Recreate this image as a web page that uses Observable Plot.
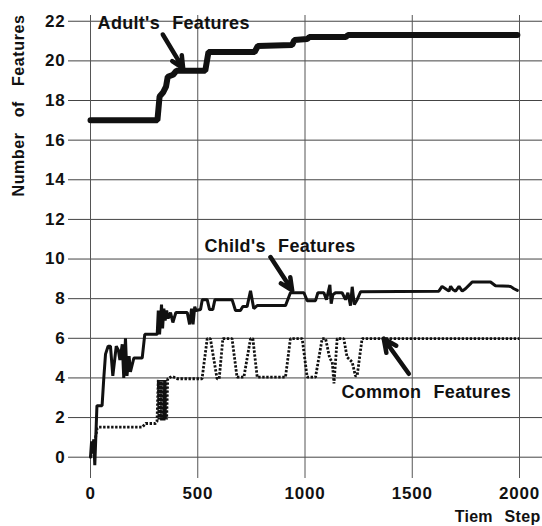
<!DOCTYPE html>
<html><head><meta charset="utf-8">
<script src="https://cdn.jsdelivr.net/npm/d3@7"></script>
<script src="https://cdn.jsdelivr.net/npm/@observablehq/plot@0.6"></script>
<style>
body{margin:0;background:#fff;}
#chart svg{font-family:"Liberation Sans",Arial,sans-serif;font-weight:bold;}
</style></head><body><div id="chart"></div>
<script>
// Tick values
const xTicks = [0, 500, 1000, 1500, 2000];
const yTicks = [0, 2, 4, 6, 8, 10, 12, 14, 16, 18, 20, 22];

// Adult's features (time step, count)
const adultT = [0, 312, 322, 338, 352, 360, 385, 400, 535, 550, 765, 780, 940, 950, 1010, 1020, 1190, 1200, 1990];
const adultV = [17, 17, 18.2, 18.4, 18.7, 19.2, 19.3, 19.5, 19.5, 20.45, 20.45, 20.75, 20.8, 21.05, 21.1, 21.2, 21.2, 21.3, 21.3];

// Child's features
const childT = [0, 5, 10, 15, 20, 30, 54, 62, 70, 82, 93, 104, 120, 130, 137, 148, 155, 163, 170, 180, 186, 202, 241, 253, 311, 316, 322, 331, 336, 342, 348, 355, 362, 373, 384, 398, 451, 462, 471, 478, 486, 492, 513, 521, 544, 555, 570, 580, 660, 676, 699, 710, 730, 746, 761, 777, 909, 932, 995, 1010, 1049, 1060, 1088, 1100, 1116, 1122, 1130, 1142, 1173, 1189, 1200, 1212, 1220, 1230, 1243, 1259, 1624, 1639, 1655, 1671, 1679, 1690, 1702, 1718, 1733, 1748, 1772, 1779, 1865, 1888, 1958, 1974, 1990];
const childV = [0, 0.8, 0.2, 0.9, -0.4, 2.6, 2.6, 4.0, 5.2, 5.6, 5.6, 4.1, 5.6, 5.4, 4.9, 5.7, 4.0, 6.0, 4.1, 5.1, 4.3, 5.0, 5.0, 6.2, 6.2, 7.4, 6.2, 7.7, 6.5, 7.5, 6.9, 7.4, 7.0, 7.3, 6.8, 7.3, 7.3, 6.7, 7.5, 6.7, 7.6, 7.4, 7.45, 7.95, 7.95, 7.45, 7.45, 7.95, 7.95, 7.4, 7.4, 7.6, 7.6, 8.4, 7.5, 7.65, 7.65, 8.3, 8.3, 7.9, 7.9, 8.3, 8.3, 7.95, 8.7, 7.75, 8.2, 8.3, 8.3, 7.95, 8.3, 7.65, 8.6, 7.7, 7.95, 8.35, 8.38, 8.62, 8.5, 8.38, 8.62, 8.45, 8.38, 8.62, 8.38, 8.5, 8.76, 8.84, 8.84, 8.65, 8.62, 8.5, 8.42];

// Common features
const commonT = [0, 8, 20, 31, 40, 241, 257, 303, 310, 316, 319, 322, 325, 328, 331, 334, 337, 340, 343, 346, 349, 352, 355, 360, 380, 404, 520, 544, 559, 590, 600, 617, 660, 683, 715, 746, 757, 777, 909, 932, 987, 1010, 1049, 1080, 1096, 1115, 1127, 1135, 1150, 1181, 1196, 1220, 1235, 1243, 1266, 2000];
const commonV = [0, 0.2, 0.8, 1.45, 1.52, 1.52, 1.7, 1.7, 1.8, 3.9, 1.9, 3.9, 1.9, 3.9, 1.85, 3.9, 1.9, 3.9, 1.85, 3.9, 1.9, 3.9, 1.9, 3.96, 4.08, 3.96, 3.96, 5.98, 5.98, 3.96, 3.96, 5.98, 5.98, 4.04, 4.04, 5.98, 5.98, 4.04, 4.04, 5.98, 5.98, 4.04, 4.04, 5.98, 5.98, 5.0, 4.8, 3.72, 5.98, 5.98, 5.05, 4.8, 4.1, 4.1, 5.98, 5.98];

// Annotation labels and arrows (data coordinates)
const labelText = ["Adult's Features", "Child's Features", "Common Features"];
const labelT = [33, 531, 1170];
const labelV = [21.88, 10.67, 3.27];
const arrowT1 = [337, 839, 1484];
const arrowV1 = [21.33, 10.1, 4.21];
const arrowT2 = [432, 940, 1367];
const arrowV2 = [19.62, 8.42, 5.98];

const xLabel = "Tiem Step";
const yLabel = "Number of Features";

const zip = (T, V) => T.map((t, i) => ({t, v: V[i]}));
const adult = zip(adultT, adultV);
const child = zip(childT, childV);
const common = zip(commonT, commonV);
const labels = labelText.map((s, i) => ({s, t: labelT[i], v: labelV[i]}));
const arrows = arrowT1.map((t, i) => ({t1: t, v1: arrowV1[i], t2: arrowT2[i], v2: arrowV2[i]}));

const ink = "#111";
const chart = Plot.plot({
  width: 542, height: 526,
  marginLeft: 68, marginRight: 0, marginTop: 15, marginBottom: 48,
  x: {domain: [-102.6, 2107.2]},
  y: {domain: [-1.075, 22.29]},
  style: {fontFamily: "'Liberation Sans', Arial, sans-serif", fontSize: "17px", fontWeight: "bold", color: ink, background: "#fff"},
  marks: [
    Plot.ruleY(yTicks, {stroke: "#444", strokeWidth: 1}),
    Plot.ruleX(xTicks, {stroke: "#555", strokeWidth: 1}),
    Plot.axisX(xTicks, {tickSize: 0, tickPadding: 8, label: null, fontSize: 17, tickFormat: d => String(d)}),
    Plot.axisY(yTicks, {tickSize: 0, tickPadding: 3, label: null, fontSize: 17, tickFormat: d => String(d)}),
    Plot.line(common, {x: "t", y: "v", stroke: ink, strokeWidth: 2.8, strokeDasharray: "2.4,1.6", strokeLinecap: "butt", strokeLinejoin: "miter"}),
    Plot.line(child, {x: "t", y: "v", stroke: ink, strokeWidth: 3, strokeLinejoin: "miter"}),
    Plot.line(adult, {x: "t", y: "v", stroke: ink, strokeWidth: 6, strokeLinejoin: "miter"}),
    Plot.arrow(arrows, {x1: "t1", y1: "v1", x2: "t2", y2: "v2", stroke: ink, strokeWidth: 4.5, headLength: 14, headAngle: 50}),
    Plot.text(labels, {x: "t", y: "v", text: "s", textAnchor: "start", fontSize: 18, fontWeight: "bold", fill: ink}),
    Plot.text([xLabel], {frameAnchor: "bottom-right", dx: -2, dy: 38, textAnchor: "end", lineAnchor: "middle", fontSize: 16, fontWeight: "bold", fill: ink}),
    Plot.text([yLabel], {frameAnchor: "top-left", dx: -50, dy: 90, rotate: -90, textAnchor: "middle", lineAnchor: "middle", fontSize: 16, fontWeight: "bold", fill: ink})
  ]
});
document.getElementById("chart").appendChild(chart);
d3.select(chart).selectAll("text").each(function() {
  const s = this.textContent;
  if (s === yLabel) d3.select(this).style("word-spacing", "10px").style("letter-spacing", "0.6px");
  else if (s.indexOf(" ") >= 0) d3.select(this).style("word-spacing", "7px").style("letter-spacing", "0.3px");
  else d3.select(this).style("letter-spacing", "0.8px");
});
// make sure the common-features line is dotted (butt caps keep the gaps visible)
const lineGroups = d3.select(chart).selectAll("g[aria-label='line']").nodes();
if (lineGroups.length) {
  d3.select(lineGroups[0]).selectAll("path").style("stroke-dasharray", "2.4,1.6").style("stroke-linecap", "butt");
}
</script></body></html>
